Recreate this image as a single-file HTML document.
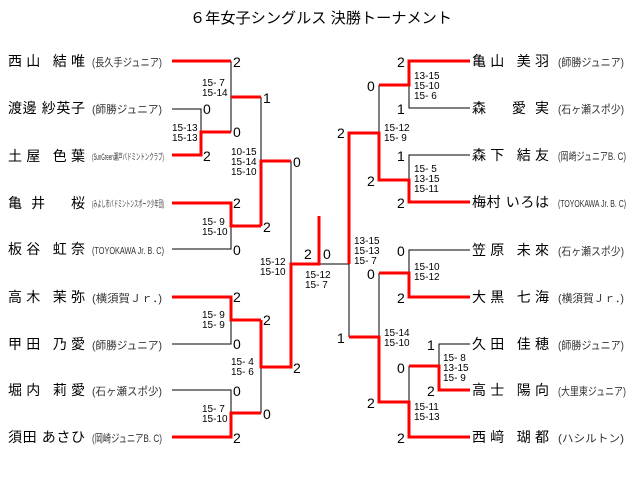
<!DOCTYPE html>
<html><head><meta charset="utf-8"><style>
html,body{margin:0;padding:0;background:#fff;}
svg{display:block;font-family:"Liberation Sans","Noto Sans CJK JP",sans-serif;}
.n{font-size:14px;fill:#000;}
.c{font-size:11px;fill:#333;}
.s{font-size:14px;fill:#000;}
.t{font-size:10px;fill:#000;}
</style></head><body>
<svg width="640" height="481" viewBox="0 0 640 481" xmlns="http://www.w3.org/2000/svg">
<text x="321" y="23" font-size="15" text-anchor="middle" textLength="262" lengthAdjust="spacingAndGlyphs">６年女子シングルス 決勝トーナメント</text>

<g fill="none" stroke="#000" stroke-width="1">
<path d="M172 109H201V155"/>
<path d="M231 61V132"/>
<path d="M172 249H231V203"/>
<path d="M261 97V226"/>
<path d="M172 344H231V297"/>
<path d="M172 390H231V437"/>
<path d="M261 320V413"/>
<path d="M291 161V264"/>
<path d="M319 264H349"/>
<path d="M470 108H409V61"/>
<path d="M379 85V133"/>
<path d="M470 155H409V202"/>
<path d="M349 264V337"/>
<path d="M470 250H409V273"/>
<path d="M379 273V337"/>
<path d="M470 344H439V366"/>
<path d="M409 366V402"/>
</g>
<g fill="none" stroke="#f00" stroke-width="3">
<path d="M172 61H231"/>
<path d="M172 155H201V132H231"/>
<path d="M231 97H261"/>
<path d="M172 203H231V226H261"/>
<path d="M261 226V161H291"/>
<path d="M172 297H231V320H261"/>
<path d="M172 437H231V413H261"/>
<path d="M261 320V367H291V264H319V216"/>
<path d="M470 61H409V85H379"/>
<path d="M470 202H409V180H379V133H349V264"/>
<path d="M470 297H409V273H379"/>
<path d="M349 337H379V402H409V437H470"/>
<path d="M470 390H439V366H409"/>
</g>

<g class="n">
<text x="8" y="66" textLength="77">西山 結唯</text>
<text x="8" y="113" textLength="77">渡邊 紗英子</text>
<text x="8" y="161" textLength="77">土屋 色葉</text>
<text x="8" y="208" textLength="77">亀 井　 桜</text>
<text x="8" y="254" textLength="77">板谷 虹奈</text>
<text x="8" y="302" textLength="77">高木 茉弥</text>
<text x="8" y="349" textLength="77">甲田 乃愛</text>
<text x="8" y="395" textLength="77">堀内 莉愛</text>
<text x="8" y="442" textLength="77">須田 あさひ</text>
</g>
<g class="c">
<text x="92" y="66" textLength="70" lengthAdjust="spacingAndGlyphs">(長久手ジュニア)</text>
<text x="92" y="113" textLength="70" lengthAdjust="spacingAndGlyphs">(師勝ジュニア)</text>
<text x="92" y="160" textLength="72" lengthAdjust="spacingAndGlyphs" font-size="9">(SunGreen瀬戸バドミントンクラブ)</text>
<text x="92" y="207" textLength="72" lengthAdjust="spacingAndGlyphs" font-size="9">(みよし市バドミントンスポーツ少年団)</text>
<text x="92" y="254" textLength="72" lengthAdjust="spacingAndGlyphs" font-size="10">(TOYOKAWA Jr. B. C)</text>
<text x="92" y="302" textLength="70" lengthAdjust="spacingAndGlyphs">(横須賀Ｊｒ．)</text>
<text x="92" y="349" textLength="70" lengthAdjust="spacingAndGlyphs">(師勝ジュニア)</text>
<text x="92" y="395" textLength="70" lengthAdjust="spacingAndGlyphs">(石ヶ瀬スポ少)</text>
<text x="92" y="442" textLength="70" lengthAdjust="spacingAndGlyphs">(岡崎ジュニアB. C)</text>
</g>

<g class="n">
<text x="472" y="66" textLength="77">亀山 美羽</text>
<text x="472" y="113" textLength="77">森　 愛 実</text>
<text x="472" y="160" textLength="77">森下 結友</text>
<text x="472" y="207" textLength="77">梅村 いろは</text>
<text x="472" y="255" textLength="77">笠原 未來</text>
<text x="472" y="302" textLength="77">大黒 七海</text>
<text x="472" y="349" textLength="77">久田 佳穂</text>
<text x="472" y="395" textLength="77">高士 陽向</text>
<text x="472" y="442" textLength="77">西﨑 瑚都</text>
</g>
<g class="c">
<text x="558" y="66" textLength="66" lengthAdjust="spacingAndGlyphs">(師勝ジュニア)</text>
<text x="558" y="113" textLength="66" lengthAdjust="spacingAndGlyphs">(石ヶ瀬スポ少)</text>
<text x="558" y="160" textLength="68" lengthAdjust="spacingAndGlyphs">(岡崎ジュニアB. C)</text>
<text x="558" y="207" textLength="68" lengthAdjust="spacingAndGlyphs" font-size="10">(TOYOKAWA Jr. B. C)</text>
<text x="558" y="255" textLength="66" lengthAdjust="spacingAndGlyphs">(石ヶ瀬スポ少)</text>
<text x="558" y="302" textLength="66" lengthAdjust="spacingAndGlyphs">(横須賀Ｊｒ．)</text>
<text x="558" y="349" textLength="66" lengthAdjust="spacingAndGlyphs">(師勝ジュニア)</text>
<text x="558" y="395" textLength="68" lengthAdjust="spacingAndGlyphs">(大里東ジュニア)</text>
<text x="558" y="442" textLength="66" lengthAdjust="spacingAndGlyphs">(ハシルトン)</text>
</g>

<g class="s">
<text x="233" y="67">2</text>
<text x="203" y="114">0</text>
<text x="203" y="161">2</text>
<text x="233" y="137">0</text>
<text x="263" y="103">1</text>
<text x="233" y="208">2</text>
<text x="233" y="255">0</text>
<text x="263" y="232">2</text>
<text x="293" y="167">0</text>
<text x="233" y="302">2</text>
<text x="233" y="349">0</text>
<text x="263" y="325">2</text>
<text x="233" y="396">0</text>
<text x="233" y="443">2</text>
<text x="263" y="419">0</text>
<text x="293" y="373">2</text>
<text x="304" y="259">2</text>
<text x="323" y="259">0</text>
<text x="397" y="67">2</text>
<text x="397" y="114">1</text>
<text x="367" y="91">0</text>
<text x="397" y="161">1</text>
<text x="397" y="208">2</text>
<text x="367" y="186">2</text>
<text x="337" y="138">2</text>
<text x="397" y="256">0</text>
<text x="397" y="303">2</text>
<text x="367" y="279">0</text>
<text x="337" y="343">1</text>
<text x="427" y="350">1</text>
<text x="427" y="396">2</text>
<text x="397" y="373">0</text>
<text x="397" y="443">2</text>
<text x="367" y="408">2</text>
</g>

<g class="t">
<text x="202" y="86">15- 7</text><text x="202" y="96">15-14</text>
<text x="172" y="131">15-13</text><text x="172" y="141">15-13</text>
<text x="231" y="155">10-15</text><text x="231" y="165">15-14</text><text x="231" y="175">15-10</text>
<text x="202" y="225">15- 9</text><text x="202" y="235">15-10</text>
<text x="260" y="265">15-12</text><text x="260" y="275">15-10</text>
<text x="305" y="278">15-12</text><text x="305" y="288">15- 7</text>
<text x="202" y="318">15- 9</text><text x="202" y="328">15- 9</text>
<text x="231" y="365">15- 4</text><text x="231" y="375">15- 6</text>
<text x="202" y="412">15- 7</text><text x="202" y="422">15-10</text>
<text x="414" y="79">13-15</text><text x="414" y="89">15-10</text><text x="414" y="99">15- 6</text>
<text x="384" y="131">15-12</text><text x="384" y="141">15- 9</text>
<text x="414" y="172">15- 5</text><text x="414" y="182">13-15</text><text x="414" y="192">15-11</text>
<text x="354" y="244">13-15</text><text x="354" y="254">15-13</text><text x="354" y="264">15- 7</text>
<text x="414" y="270">15-10</text><text x="414" y="280">15-12</text>
<text x="384" y="336">15-14</text><text x="384" y="346">15-10</text>
<text x="443" y="361">15- 8</text><text x="443" y="371">13-15</text><text x="443" y="381">15- 9</text>
<text x="414" y="410">15-11</text><text x="414" y="420">15-13</text>
</g>
</svg>
</body></html>
